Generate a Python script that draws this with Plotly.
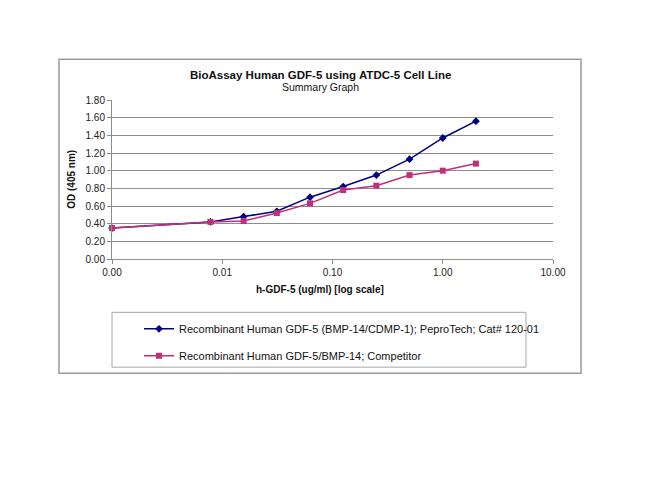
import plotly.graph_objects as go

# concentrations (ug/ml), first point is the blank plotted at the axis minimum
conc = [0.001, 0.0078125, 0.015625, 0.03125, 0.0625, 0.125, 0.25, 0.5, 1.0, 2.0]
od_peprotech = [0.35, 0.42, 0.48, 0.54, 0.70, 0.82, 0.95, 1.13, 1.37, 1.56]
od_competitor = [0.35, 0.42, 0.43, 0.52, 0.63, 0.78, 0.83, 0.95, 1.00, 1.08]

name_peprotech = "Recombinant Human GDF-5 (BMP-14/CDMP-1); PeproTech; Cat# 120-01"
name_competitor = "Recombinant Human GDF-5/BMP-14; Competitor"

blue = "#000080"
pink = "#C0307A"
grid = "#8c8c8c"
font = "Liberation Sans, Arial, sans-serif"

fig = go.Figure()

fig.add_trace(go.Scatter(
    x=conc, y=od_peprotech, name=name_peprotech, mode="lines+markers",
    line=dict(color=blue, width=1.5),
    marker=dict(symbol="diamond", size=6, color=blue),
    legendgroup="a", cliponaxis=False
))
fig.add_trace(go.Scatter(
    x=conc, y=od_competitor, name=name_competitor, mode="lines+markers",
    line=dict(color=pink, width=1.5),
    marker=dict(symbol="square", size=6, color=pink),
    legendgroup="b", cliponaxis=False
))

# plot area spans px 112..553 horizontally and 100..259.5 vertically (page pixels)
def px_x(p):
    return (p - 112) / 441.0

def px_y(p):
    return (259.5 - p) / 159.5

# outer chart border
fig.add_shape(type="rect", xref="paper", yref="paper",
              x0=px_x(59), x1=px_x(581), y0=px_y(374), y1=px_y(59),
              line=dict(color="#9a9a9a", width=1.5), layer="below")
# legend box
fig.add_shape(type="rect", xref="paper", yref="paper",
              x0=px_x(112), x1=px_x(526), y0=px_y(368), y1=px_y(313),
              line=dict(color="#a8a8a8", width=1), layer="below")

fig.add_annotation(text="<b>BioAssay Human GDF-5 using ATDC-5 Cell Line</b>",
                   xref="paper", yref="paper", x=px_x(320), y=px_y(75),
                   xanchor="center", yanchor="middle",
                   showarrow=False, font=dict(size=11.5, color="#111"))
fig.add_annotation(text="Summary Graph",
                   xref="paper", yref="paper", x=px_x(320), y=px_y(87),
                   xanchor="center", yanchor="middle",
                   showarrow=False, font=dict(size=10.5, color="#111"))
fig.add_annotation(text="<b>h-GDF-5 (ug/ml) [log scale]</b>",
                   xref="paper", yref="paper", x=px_x(320), y=px_y(290),
                   xanchor="center", yanchor="middle",
                   showarrow=False, font=dict(size=10, color="#111"))
fig.add_annotation(text="<b>OD (405 nm)</b>", textangle=-90,
                   xref="paper", yref="paper", x=px_x(72), y=px_y(180),
                   xanchor="center", yanchor="middle",
                   showarrow=False, font=dict(size=10, color="#111"))

# the page is drawn with an 8px body offset, so margins are 8px smaller
fig.update_layout(
    width=650, height=502,
    margin=dict(l=104, r=105, t=92, b=250.5),
    paper_bgcolor="white", plot_bgcolor="white",
    font=dict(family=font, size=10, color="#222"),
    showlegend=True,
    legend=dict(
        x=px_x(139), y=px_y(315), xanchor="left", yanchor="top",
        bgcolor="rgba(0,0,0,0)", borderwidth=0,
        font=dict(size=11, color="#111"),
        itemwidth=30, tracegroupgap=8, traceorder="grouped"
    ),
    xaxis=dict(
        type="log", range=[-3, 1], dtick=1, tickformat=".2f",
        showgrid=False, showline=True, linecolor=grid, linewidth=1,
        ticks="outside", ticklen=4, tickcolor=grid, zeroline=False,
        tickfont=dict(size=10, color="#222")
    ),
    yaxis=dict(
        range=[0, 1.8], dtick=0.2, tickformat=".2f",
        showgrid=True, gridcolor=grid, gridwidth=1,
        showline=True, linecolor=grid, linewidth=1,
        ticks="outside", ticklen=4, tickcolor=grid, zeroline=False,
        tickfont=dict(size=10, color="#222")
    ),
)

fig.write_html("out.html")
